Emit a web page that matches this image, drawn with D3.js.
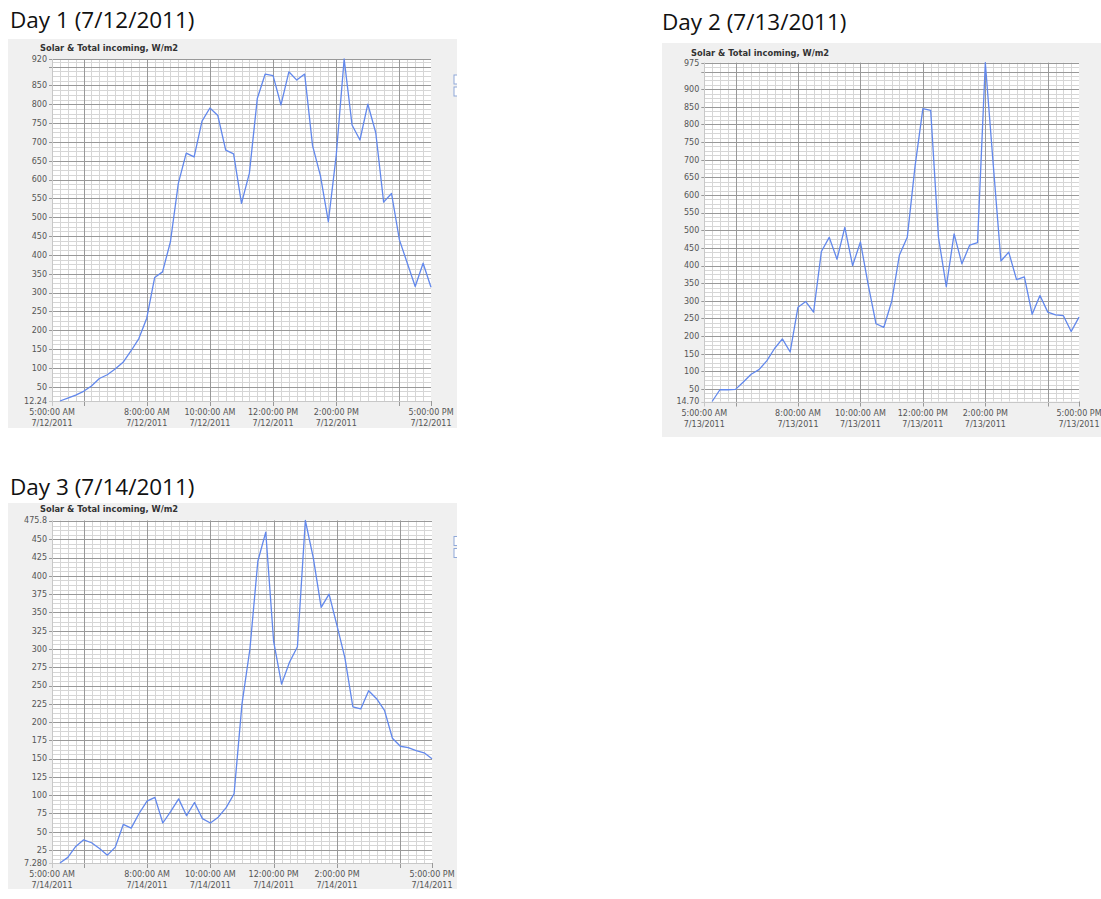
<!DOCTYPE html>
<html>
<head>
<meta charset="utf-8">
<script src="https://cdn.jsdelivr.net/npm/d3@7"></script>
<style>
body { margin: 0; background: #fff; }
svg text { font-family: "DejaVu Sans", sans-serif; }
.title { font-family: "Open Sans", sans-serif; font-size: 22.5px; fill: #111; }
.sub { font-size: 8.3px; font-weight: bold; fill: #333; }
.tick { font-size: 8px; fill: #555; }
</style>
</head>
<body>
<div id="chart"></div>
<script>

WIDTH = 1101;
HEIGHT = 899;

// sample times (15 minute readings)
var sampleTimes = [
    "05:15", "05:30", "05:45", "06:00", "06:15", "06:30", "06:45", "07:00",
    "07:15", "07:30", "07:45", "08:00", "08:15", "08:30", "08:45", "09:00",
    "09:15", "09:30", "09:45", "10:00", "10:15", "10:30", "10:45", "11:00",
    "11:15", "11:30", "11:45", "12:00", "12:15", "12:30", "12:45", "13:00",
    "13:15", "13:30", "13:45", "14:00", "14:15", "14:30", "14:45", "15:00",
    "15:15", "15:30", "15:45", "16:00", "16:15", "16:30", "16:45", "17:00"
];

// Solar & Total incoming, W/m2
var day1Values = [12.24, 20, 28, 38, 52, 72, 82, 97, 115, 145,
                  178, 232, 340, 355, 435, 590, 670, 660, 755, 790,
                  770, 678, 668, 537, 617, 815, 880, 876, 798, 886,
                  864, 880, 690, 610, 488, 665, 920, 745, 705, 800,
                  725, 540, 563, 440, 378, 316, 378, 314];

var day2Values = [14.70, 48, 48, 49, 70, 92, 105, 130, 165, 192,
                  155, 282, 298, 268, 440, 480, 418, 508, 400, 467,
                  345, 235, 225, 298, 430, 480, 682, 845, 840, 480,
                  340, 490, 405, 458, 465, 975, 690, 413, 438, 360,
                  368, 262, 315, 268, 260, 258, 213, 254];

var day3Values = [7.28, 15, 30, 39, 35, 27, 18, 29, 60, 55,
                  75, 92, 97, 62, 78, 95, 72, 90, 68, 62,
                  70, 83, 102, 225, 300, 420, 460, 310, 252, 282,
                  303, 475.8, 425, 357, 375, 332, 288, 221, 218, 243,
                  232, 216, 178, 167, 165, 161, 158, 150];

var titles = ["Day 1 (7/12/2011)", "Day 2 (7/13/2011)", "Day 3 (7/14/2011)"];
var dates = ["7/12/2011", "7/13/2011", "7/14/2011"];
var subtitle = "Solar & Total incoming, W/m2";

var xTickTimes = ["05:00", "08:00", "10:00", "12:00", "14:00", "17:00"];
var xTickLabels = ["5:00:00 AM", "8:00:00 AM", "10:00:00 AM", "12:00:00 PM", "2:00:00 PM", "5:00:00 PM"];

// y axis: min / max labels and labelled steps
var day1YDomain = [12.24, 920];
var day1YEnds = ["12.24", "920"];
var day1YTicks = [50, 100, 150, 200, 250, 300, 350, 400, 450, 500, 550, 600, 650, 700, 750, 800, 850];

var day2YDomain = [14.70, 975];
var day2YEnds = ["14.70", "975"];
var day2YTicks = [50, 100, 150, 200, 250, 300, 350, 400, 450, 500, 550, 600, 650, 700, 750, 800, 850, 900];

var day3YDomain = [7.28, 475.8];
var day3YEnds = ["7.280", "475.8"];
var day3YTicks = [25, 50, 75, 100, 125, 150, 175, 200, 225, 250, 275, 300, 325, 350, 375, 400, 425, 450];


var parseTime = d3.timeParse("%H:%M");

var charts = [
    { title: titles[0], date: dates[0], values: day1Values, domain: day1YDomain, ends: day1YEnds,
      ticks: day1YTicks, step: 50,
      tx: 10, ty: 28, panel: [8, 39, 449, 389], sx: 40, sy: 51,
      plot: { l: 52, t: 59, r: 431, b: 401 } },
    { title: titles[1], date: dates[1], values: day2Values, domain: day2YDomain, ends: day2YEnds,
      ticks: day2YTicks, step: 50,
      tx: 662, ty: 30, panel: [662, 43, 445, 394], sx: 691, sy: 56,
      plot: { l: 704.3, t: 62.7, r: 1079, b: 401.5 } },
    { title: titles[2], date: dates[2], values: day3Values, domain: day3YDomain, ends: day3YEnds,
      ticks: day3YTicks, step: 25,
      tx: 10, ty: 495, panel: [8, 503, 449, 386], sx: 40, sy: 512,
      plot: { l: 52, t: 520.5, r: 432, b: 863 } }
];


var svg = d3.select("#chart").append("svg")
    .attr("width", WIDTH)
    .attr("height", HEIGHT);

charts.forEach(function (c, ci) { draw_chart(c, ci); });


function draw_chart(c, ci) {
    var g = svg.append("g");
    var p = c.plot;

    g.append("text").attr("class", "title")
        .attr("x", c.tx).attr("y", c.ty)
        .text(c.title);

    var clipId = "panelclip" + ci;
    g.append("clipPath").attr("id", clipId)
        .append("rect")
        .attr("x", c.panel[0]).attr("y", c.panel[1])
        .attr("width", c.panel[2]).attr("height", c.panel[3]);

    var panel = g.append("g").attr("clip-path", "url(#" + clipId + ")");

    panel.append("rect")
        .attr("x", c.panel[0]).attr("y", c.panel[1])
        .attr("width", c.panel[2]).attr("height", c.panel[3])
        .attr("fill", "#f0f0f0");

    // bits of the legend, cut off at the panel edge
    var lx = c.panel[0] + c.panel[2] - 3;
    [0, 1].forEach(function (k) {
        panel.append("rect")
            .attr("x", lx).attr("y", p.t + 16 + k * 12)
            .attr("width", 8).attr("height", 9)
            .attr("fill", "#fff")
            .attr("stroke", "#8fa8d8");
    });

    panel.append("text").attr("class", "sub")
        .attr("x", c.sx).attr("y", c.sy)
        .text(subtitle);

    var x = d3.scaleTime()
        .domain([parseTime("05:00"), parseTime("17:00")])
        .range([p.l, p.r]);

    var y = d3.scaleLinear()
        .domain(c.domain)
        .range([p.b, p.t]);

    panel.append("rect")
        .attr("x", p.l).attr("y", p.t)
        .attr("width", p.r - p.l).attr("height", p.b - p.t)
        .attr("fill", "#fff");

    // minor grid
    var minorX = d3.timeMinute.every(15).range(x.domain()[0], x.domain()[1]);
    panel.append("g").selectAll("line")
        .data(minorX).enter()
        .append("line")
        .attr("x1", function (d) { return Math.round(x(d)) + 0.5; })
        .attr("x2", function (d) { return Math.round(x(d)) + 0.5; })
        .attr("y1", p.t).attr("y2", p.b)
        .attr("stroke", "#d6d6d6");

    var minorY = d3.range(0, c.domain[1], c.step / 4).filter(function (v) { return v > c.domain[0]; });
    panel.append("g").selectAll("line")
        .data(minorY).enter()
        .append("line")
        .attr("x1", p.l).attr("x2", p.r)
        .attr("y1", function (d) { return Math.round(y(d)) + 0.5; })
        .attr("y2", function (d) { return Math.round(y(d)) + 0.5; })
        .attr("stroke", "#d6d6d6");

    // major grid
    var majorX = d3.timeHour.every(2).range(parseTime("06:00"), x.domain()[1]);
    panel.append("g").selectAll("line")
        .data(majorX).enter()
        .append("line")
        .attr("x1", function (d) { return Math.round(x(d)) + 0.5; })
        .attr("x2", function (d) { return Math.round(x(d)) + 0.5; })
        .attr("y1", p.t).attr("y2", p.b + 5)
        .attr("stroke", "#999");

    var majorY = d3.range(c.step, c.domain[1], c.step);
    panel.append("g").selectAll("line")
        .data(majorY).enter()
        .append("line")
        .attr("x1", p.l - 3).attr("x2", p.r)
        .attr("y1", function (d) { return Math.round(y(d)) + 0.5; })
        .attr("y2", function (d) { return Math.round(y(d)) + 0.5; })
        .attr("stroke", "#999");

    // frame lines top / left / bottom
    panel.append("line")
        .attr("x1", p.l - 3).attr("x2", p.r)
        .attr("y1", Math.round(p.t) + 0.5).attr("y2", Math.round(p.t) + 0.5)
        .attr("stroke", "#999");
    panel.append("line")
        .attr("x1", p.l - 3).attr("x2", p.r)
        .attr("y1", Math.round(p.b) + 0.5).attr("y2", Math.round(p.b) + 0.5)
        .attr("stroke", "#c8c8c8");
    panel.append("line")
        .attr("x1", Math.round(p.l) + 0.5).attr("x2", Math.round(p.l) + 0.5)
        .attr("y1", p.t).attr("y2", p.b + 5)
        .attr("stroke", "#c8c8c8");
    panel.append("line")
        .attr("x1", Math.round(p.r) + 0.5).attr("x2", Math.round(p.r) + 0.5)
        .attr("y1", p.b).attr("y2", p.b + 5)
        .attr("stroke", "#999");

    // y labels
    var yLabels = [{ v: c.domain[0], t: c.ends[0] }, { v: c.domain[1], t: c.ends[1] }]
        .concat(c.ticks.map(function (v) { return { v: v, t: String(v) }; }));
    panel.append("g").selectAll("text")
        .data(yLabels).enter()
        .append("text").attr("class", "tick")
        .attr("x", p.l - 5)
        .attr("y", function (d) { return y(d.v); })
        .attr("dy", "0.35em")
        .attr("text-anchor", "end")
        .text(function (d) { return d.t; });

    // x labels
    var xl = panel.append("g").selectAll("g")
        .data(xTickTimes).enter()
        .append("g")
        .attr("transform", function (d) { return "translate(" + x(parseTime(d)) + ",0)"; });
    xl.append("text").attr("class", "tick")
        .attr("y", p.b + 14)
        .attr("text-anchor", "middle")
        .text(function (d, i) { return xTickLabels[i]; });
    xl.append("text").attr("class", "tick")
        .attr("y", p.b + 25)
        .attr("text-anchor", "middle")
        .text(c.date);

    // the series
    var line = d3.line()
        .x(function (d, i) { return x(parseTime(sampleTimes[i])); })
        .y(function (d) { return y(d); });

    panel.append("path")
        .datum(c.values)
        .attr("d", line)
        .attr("fill", "none")
        .attr("stroke", "#6288ec")
        .attr("stroke-width", 1.3)
        .attr("stroke-linejoin", "round");
}

</script>
</body>
</html>
